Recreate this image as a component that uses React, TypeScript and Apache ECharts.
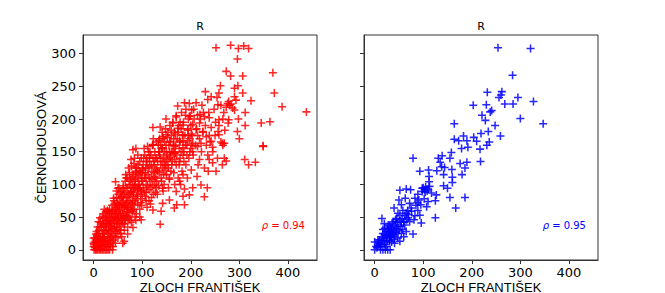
import React, { useEffect, useRef } from 'react';
import * as echarts from 'echarts';

// Axis ticks and ranges (shared by both panels)
const X_TICKS = [0, 100, 200, 300, 400];
const Y_TICKS = [0, 50, 100, 150, 200, 250, 300];
const X_MIN = -21.9;
const X_MAX = 459.9;
const Y_MIN = -15.65;
const Y_MAX = 328.65;

const TITLE_LEFT = 'R';
const TITLE_RIGHT = 'R';
const X_NAME = 'ZLOCH FRANTIŠEK';
const Y_NAME = 'ČERNOHOUSOVÁ';
const RHO_LEFT = '0.94';
const RHO_RIGHT = '0.95';

// Left panel (red) - upper part
const leftUpper: [number, number][] = [
  [252,309],[282,313],[298,308],[309,312],[319,308],[296,292],[273,273],[282,266],[307,266],[369,271],
  [230,242],[261,251],[290,247],[297,251],[307,240],[372,240],[242,234],[254,233],[258,240],[290,234],
  [293,229],[278,227],[283,223],[324,228],[197,224],[211,225],[223,221],[235,230],[256,222],[262,221],
  [273,218],[388,219],[438,211],[202,214],[219,207],[237,210],[290,214],[312,210],[170,203],[189,206],
  [197,204],[214,206],[228,204],[238,202],[258,199],[266,200],[278,199],[298,200],[122,187],[163,194],
  [178,195],[184,191],[204,192],[218,194],[251,195],[277,194],[312,190],[345,194],[363,196],[160,183],
  [173,186],[194,183],[211,184],[225,181],[242,187],[256,181],[270,183],[149,176],[168,177],[184,176],
  [201,177],[214,175],[232,173],[258,176],[296,181],[300,170],[142,173],[157,166],[134,167],[122,161],
  [177,167],[194,167],[204,163],[221,163],[242,166],[265,163],[269,163],[349,159],[141,156],[166,158],
  [184,156],[87,155],[276,224],[280,221],[286,217]
];

// Left panel (red) - middle / outliers
const leftMid: [number, number][] = [
  [349,158],[311,138],[319,130],[333,134],[269,140],[273,136],[245,157],[266,160],[238,138],[245,133],
  [221,99],[234,95],[228,81],[204,95],[187,93],[184,82],[171,69],[187,69],[166,64],[137,39],
  [77,138],[81,153],[122,160],[142,156],[108,135],[45,104],[50,94],[41,79],[13,49],[10,43],
  [29,59],[61,94],[67,110],[87,125],[101,122],[115,140],[149,130],[156,140],[166,148],[177,135],
  [184,145],[204,150],[214,158],[218,138],[201,122],[184,115],[156,110],[177,105],[142,94],[170,89],
  [197,84],[156,76],[142,71],[122,61],[139,59],[98,46],[81,34],[70,24],[63,13],[60,10],
  [39,0],[27,0],[15,0],[1,0],[0,10],[0,18],[8,15],[5,24],[20,55],[22,62],
  [25,58],[18,50],[47,80],[3,3],[6,8],[12,12],[0,5],[10,5],[14,20],[2,12]
];

// Left panel (red) - dense band
const leftDense: [number, number][] = [
  [2,5],[5,12],[8,3],[10,20],[12,8],[15,15],[18,25],[3,18],[6,28],[14,2],
  [17,10],[20,30],[4,0],[9,0],[22,5],[20,18],[11,30],[16,35],[7,22],[19,40],
  [22,20],[24,35],[25,12],[26,45],[28,25],[30,8],[30,38],[32,18],[33,50],[35,28],
  [36,42],[38,12],[38,55],[40,32],[40,22],[23,28],[27,52],[29,15],[31,30],[34,36],
  [37,48],[39,60],[25,40],[21,48],[35,5],[28,60],[32,44],[36,20],[24,8],[33,62],
  [42,40],[42,55],[44,28],[45,65],[46,48],[47,35],[48,72],[50,50],[50,30],[52,60],
  [53,42],[54,78],[55,55],[56,38],[57,68],[58,48],[59,82],[60,62],[41,15],[43,70],
  [45,20],[49,58],[51,85],[55,25],[58,90],[60,40],[44,50],[48,45],[52,68],[46,62],
  [62,52],[62,75],[64,88],[65,45],[66,68],[67,95],[68,58],[70,80],[70,35],[72,65],
  [73,100],[74,50],[75,85],[76,72],[77,108],[78,60],[79,90],[80,75],[61,98],[63,30],
  [65,105],[69,110],[71,48],[74,118],[78,42],[80,100],[64,65],[68,72],[76,95],[72,85],
  [82,88],[82,62],[84,105],[85,75],[86,120],[87,95],[88,55],[89,82],[90,110],[91,70],
  [92,130],[93,92],[94,100],[95,62],[96,118],[97,85],[98,140],[99,105],[100,78],[100,125],
  [83,132],[87,45],[91,145],[95,50],[99,90],[81,115],[85,98],[93,115],[97,72],[89,125],
  [102,95],[103,140],[105,110],[106,82],[107,125],[108,100],[110,135],[110,65],[112,115],[113,150],
  [114,92],[115,128],[116,105],[118,145],[119,80],[120,120],[121,160],[122,98],[124,135],[125,112],
  [126,150],[127,88],[128,125],[130,140],[130,105],[104,155],[108,75],[111,158],[117,70],[123,170],
  [129,95],[101,118],[109,88],[115,140],[125,130],
  [132,120],[133,160],[134,98],[135,145],[136,170],[138,130],[139,110],[140,155],[141,180],[142,125],
  [144,142],[145,100],[146,165],[147,135],[148,185],[150,150],[150,115],[152,172],[153,130],[155,160],
  [156,108],[157,190],[158,142],[159,120],[160,175],[131,85],[137,188],[143,90],[149,200],[154,95],
  [160,150],[136,150],[145,130],[152,145],
  [162,135],[163,195],[164,160],[165,118],[166,180],[168,148],[170,205],[170,130],[172,170],[174,110],
  [175,190],[176,155],[178,140],[180,185],[181,210],[182,120],[184,165],[185,195],[186,150],[188,175],
  [190,130],[190,215],[192,160],[194,185],[195,200],[196,140],[198,170],[200,190],[200,155],[167,100],
  [173,220],[179,100],[187,225],[193,110],[199,205],
  [203,175],[205,145],[207,200],[210,160],[212,185],[215,130],[218,170],[220,200],[222,150],[225,180],
  [228,125],[230,190],[232,160],[235,145],[238,175],[240,165],[206,215],[213,112],[226,210],[236,120],
  [245,150],[250,175],[255,140],[258,190],[262,165],[265,130],[268,210],[248,215],[252,120]
];

// Left panel (red) - second layer of the dense band
const leftDense2: [number, number][] = [
  [1,8],[4,15],[6,4],[9,25],[11,16],[13,35],[16,6],[18,20],[21,38],[23,14],
  [26,30],[27,8],[29,45],[14,42],[8,35],[19,12],[24,50],[12,0],[18,0],[24,0],
  [30,0],[33,0],[21,0],[6,0],
  [31,24],[33,40],[34,14],[36,55],[37,32],[39,45],[41,50],[43,35],[44,62],[46,25],
  [47,55],[49,40],[50,70],[51,48],[53,30],[54,65],[56,52],[57,80],[59,45],[60,72],
  [32,58],[38,68],[42,75],[47,90],[52,95],[55,88],[34,8],[40,5],[45,10],[50,18],
  [56,30],[58,20],
  [61,55],[62,85],[63,68],[66,50],[67,80],[69,65],[70,95],[71,58],[73,75],[75,105],
  [76,62],[77,88],[79,70],[80,112],[81,82],[83,95],[84,68],[86,108],[87,78],[88,118],
  [64,40],[70,52],[75,45],[80,58],[85,50],[66,115],[72,125],[78,128],[84,140],[90,95],
  [91,85],[92,100],[94,120],[95,135],[96,95],[98,110],[99,68],[101,105],[102,130],[104,88],
  [105,145],[106,118],[108,110],[109,140],[111,98],[112,125],[114,75],[115,110],[116,150],[118,95],
  [119,130],[120,108],[122,140],[123,85],[124,118],[126,100],[127,140],[128,110],[129,165],[130,122],
  [132,135],[134,150],[135,118],[137,140],[138,160],[140,105],[141,135],[143,170],[144,115],[146,150],
  [147,122],[149,160],[151,138],[153,180],[154,125],[156,150],[158,165],[161,130],[163,150],[165,170],
  [167,138],[169,160],[171,145],[174,180],[176,130],[178,165],[180,150],[183,175],[186,135],[189,160],
  [192,145],[195,175],[198,150],[202,160]
];

// Right panel (blue)
const rightPoints: [number, number][] = [
  [254,309],[321,308],[284,267],[232,241],[262,242],[260,237],[256,233],[295,233],[327,227],[203,221],
  [230,222],[268,223],[285,223],[241,213],[238,211],[221,206],[228,198],[300,201],[347,193],[164,193],
  [248,190],[219,178],[234,181],[259,174],[183,174],[164,169],[173,167],[190,167],[204,172],[210,166],
  [236,165],[231,160],[179,155],[192,157],[217,154],[158,149],[79,140],[139,144],[131,140],[155,140],
  [135,134],[190,134],[176,132],[218,135],[138,127],[93,120],[111,122],[128,121],[159,123],[144,126],
  [186,125],[112,112],[142,115],[160,111],[180,115],[112,104],[160,103],[142,98],[100,95],[103,92],
  [110,93],[52,91],[65,93],[74,92],[117,87],[127,84],[150,94],[89,85],[98,89],[155,80],
  [186,80],[50,76],[63,79],[83,79],[91,76],[102,78],[110,74],[125,75],[55,69],[72,71],
  [95,69],[107,66],[167,64],[40,64],[58,60],[76,59],[89,60],[52,53],[65,56],[83,52],
  [93,53],[15,48],[45,48],[69,49],[81,46],[125,49],[96,41],[38,43],[55,42],[72,43],
  [31,36],[48,36],[62,38],[21,33],[34,31],[45,28],[58,31],[79,24],[17,25],[28,24],
  [40,23],[14,20],[24,18],[34,19],[48,18],[52,13],[7,15],[17,14],[31,13],[41,10],
  [0,12],[10,10],[21,8],[0,0],[12,0],[22,0],[32,0],[12,5],[24,5],[7,7],
  [28,28],[38,25],[21,23],[31,20],[41,20],[24,28],[45,33],[55,25],[17,31],[28,38],
  [34,34],
  [5,3],[10,15],[14,8],[18,18],[20,12],[24,22],[26,14],[27,32],[30,26],[33,22],
  [35,12],[36,40],[38,30],[40,16],[42,38],[44,26],[46,42],[50,30],[52,44],[54,36],
  [57,48],[60,42],[62,52],[66,46],[68,60],[70,54],[75,64],[85,68],[88,72],[60,20],
  [3,5],[17,0],[27,0],[8,12],[30,14],[36,26],[43,46],[48,56],[20,40],[65,28],
  [105,96],[108,90],[98,94],[113,97],[104,88]
];

const PLUS = 'path://M-0.19,-1H0.19V-0.19H1V0.19H0.19V1H-0.19V0.19H-1V-0.19H-0.19Z';

export default function App() {
  const ref = useRef<HTMLDivElement>(null);
  useEffect(() => {
    if (!ref.current) return;
    const chart = echarts.init(ref.current, undefined, { renderer: 'svg' });
    const axisColor = '#333';
    const mkX = (gi: number) => ({
      type: 'value', gridIndex: gi, min: X_MIN, max: X_MAX,
      axisLine: { show: true, onZero: false, lineStyle: { color: axisColor, width: 1 } },
      splitLine: { show: false },
      axisTick: { show: true, length: 4, lineStyle: { color: axisColor }, customValues: X_TICKS },
      axisLabel: { customValues: X_TICKS, fontSize: 13, fontFamily: 'DejaVu Sans', color: '#000', margin: 6 },
    });
    const mkY = (gi: number, labels: boolean) => ({
      type: 'value', gridIndex: gi, min: Y_MIN, max: Y_MAX,
      axisLine: { show: true, onZero: false, lineStyle: { color: axisColor, width: 1 } },
      splitLine: { show: false },
      axisTick: { show: true, length: 4, lineStyle: { color: axisColor }, customValues: Y_TICKS },
      axisLabel: { show: labels, customValues: Y_TICKS, fontSize: 13, fontFamily: 'DejaVu Sans', color: '#000', margin: 7 },
    });
    const txt = (text: string, x: number, y: number, font: string, size: number, color = '#000', align = 'center', rotation = 0) => ({
      type: 'text', x, y, rotation,
      style: { text, fill: color, fontSize: size, fontFamily: font, textAlign: align, textVerticalAlign: 'middle' },
    });
    const rho = (val: string, x: number, color: string) => ({
      type: 'text', x, y: 225,
      style: {
        text: `{i|ρ} = ${val}`, fill: color, fontSize: 10, fontFamily: 'DejaVu Sans',
        textAlign: 'right', textVerticalAlign: 'middle',
        rich: { i: { fontStyle: 'italic', fontSize: 10, fontFamily: 'DejaVu Sans', fill: color } },
      },
    });
    chart.setOption({
      animation: false,
      backgroundColor: '#fff',
      grid: [
        { left: 83, top: 35, width: 234, height: 225, show: true, borderColor: axisColor, borderWidth: 1, outerBoundsMode: 'none' },
        { left: 364, top: 35, width: 234, height: 225, show: true, borderColor: axisColor, borderWidth: 1, outerBoundsMode: 'none' },
      ],
      xAxis: [mkX(0), mkX(1)],
      yAxis: [mkY(0, true), mkY(1, false)],
      series: [
        { type: 'scatter', xAxisIndex: 0, yAxisIndex: 0, symbol: PLUS, symbolSize: 8, data: [...leftDense, ...leftDense2, ...leftMid, ...leftUpper], itemStyle: { color: '#ff0000', opacity: 0.85 } },
        { type: 'scatter', xAxisIndex: 1, yAxisIndex: 1, symbol: PLUS, symbolSize: 8, data: rightPoints, itemStyle: { color: '#0000ff', opacity: 0.85 } },
      ],
      graphic: [
        txt(TITLE_LEFT, 200, 26, 'DejaVu Sans', 11),
        txt(TITLE_RIGHT, 481, 26, 'DejaVu Sans', 11),
        txt(X_NAME, 200, 287, 'Liberation Sans', 13),
        txt(X_NAME, 481, 287, 'Liberation Sans', 13),
        txt(Y_NAME, 41, 147.5, 'Liberation Sans', 13, '#000', 'center', Math.PI / 2),
        rho(RHO_LEFT, 305, '#ff0000'),
        rho(RHO_RIGHT, 586, '#0000ff'),
      ],
    });
    return () => chart.dispose();
  }, []);
  return <div ref={ref} style={{ position: 'fixed', left: 0, top: 0, width: 665, height: 293 }} />;
}
